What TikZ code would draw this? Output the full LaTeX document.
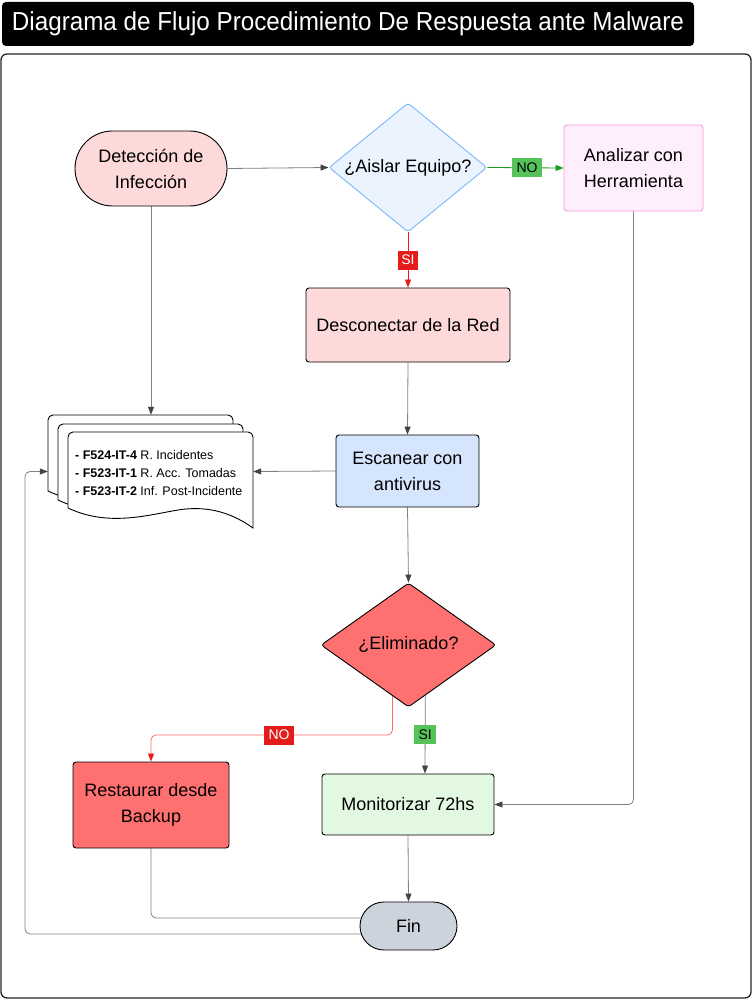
\documentclass[tikz,border=0pt]{standalone}
\usepackage{fontspec}
\setmainfont{Liberation Sans}
\usetikzlibrary{arrows.meta,shapes.geometric,shapes.misc,backgrounds,calc}

\definecolor{pinklt}{HTML}{FDD9D9}
\definecolor{bluelt}{HTML}{EAF3FE}
\definecolor{blueln}{HTML}{7DB6F7}
\definecolor{magelt}{HTML}{FFEEFB}
\definecolor{mageln}{HTML}{F59AE3}
\definecolor{scanlt}{HTML}{D5E5FD}
\definecolor{redfill}{HTML}{FF7171}
\definecolor{greenlt}{HTML}{E3F8E1}
\definecolor{finfill}{HTML}{CDD3DC}
\definecolor{lineg}{HTML}{808080}
\definecolor{arrowc}{HTML}{444444}
\definecolor{okgreen}{HTML}{1E9B1E}
\definecolor{lblgreen}{HTML}{55C35A}
\definecolor{lblred}{HTML}{E41B1B}
\definecolor{redsoft}{HTML}{FF6B6B}

\tikzset{
  base/.style={font=\fontsize{18}{26}\selectfont, align=center, inner sep=0pt, line width=0.9pt},
  proc/.style={base, rectangle, rounded corners=3pt, draw=black},
  term/.style={base, rounded rectangle, draw=black},
  decide/.style={base, diamond, rounded corners=3pt, draw=black},
  conn/.style={draw=lineg, line width=0.8pt, rounded corners=5pt,
    -{Triangle[length=8pt,width=6pt,color=arrowc]}},
  lbl/.style={font=\fontsize{14}{16}\selectfont, inner sep=0pt,
    minimum width=30pt, minimum height=19pt, rounded corners=0pt},
  sheet/.style={draw=black, fill=white, line width=0.9pt},
}

% one sheet of the document stack, given its top-left corner
\newcommand\docsheet[2]{%
  \begin{scope}[shift={(#1,#2)}]
    \path[sheet] (0,76) [rounded corners=5pt] -- (0,0) -- (185,0) [sharp corners] -- (185,96)
      .. controls (160,78) and (135,74) .. (110,78)
      .. controls (80,83) and (40,95) .. (0,76) -- cycle;
  \end{scope}}

\begin{document}
\begin{tikzpicture}[x=1pt,y=-1pt]
\useasboundingbox (0,0) rectangle (752,1000);

% title bar and frame
\node[fill=black, rounded corners=4pt, minimum width=692pt, minimum height=44pt, inner sep=0pt,
  text=white, font=\fontsize{26}{30}\selectfont] (title) at (348,24)
  {\scalebox{0.932}[1]{Diagrama de Flujo Procedimiento De Respuesta ante Malware}};
\draw[draw=black!85, line width=1.3pt, rounded corners=6pt] (1,54) rectangle (751,998);

% document stack
\docsheet{48}{415}
\docsheet{58}{424}
\docsheet{68}{432}
\node[inner sep=0pt, minimum width=205pt, minimum height=113pt] (doc) at (150.5,471.5) {};
\node[anchor=west, align=left, inner sep=0pt, font=\fontsize{12.5}{18}\selectfont] (doctext) at (75,473)
  {\textbf{- F524-IT-4} R. Incidentes\\\textbf{- F523-IT-1} R. Acc. Tomadas\\\textbf{- F523-IT-2} Inf. Post-Incidente};

% nodes
\node[term, fill=pinklt, minimum width=152pt, minimum height=75pt] (det) at (151,168.5) {Detección de\\Infección};
\node[decide, fill=bluelt, draw=blueln, aspect=1.225, minimum width=158pt, minimum height=129pt] (aislar) at (408,167.5) {¿Aislar Equipo?};
\node[proc, fill=magelt, draw=mageln, minimum width=139pt, minimum height=86pt] (ana) at (633.5,168) {Analizar con\\Herramienta};
\node[proc, fill=pinklt, minimum width=204pt, minimum height=74pt] (desc) at (408,325) {Desconectar de la Red};
\node[proc, fill=scanlt, minimum width=143pt, minimum height=72pt] (scan) at (407.5,471) {Escanear con\\antivirus};
\node[decide, fill=redfill, aspect=1.41, minimum width=175pt, minimum height=124pt] (elim) at (408.5,645) {¿Eliminado?};
\node[proc, fill=redfill, minimum width=156pt, minimum height=86pt] (rest) at (151,805) {Restaurar desde\\Backup};
\node[proc, fill=greenlt, minimum width=172pt, minimum height=61pt] (mon) at (408,804.5) {Monitorizar 72hs};
\node[term, fill=finfill, minimum width=97pt, minimum height=48pt] (fin) at (408.5,926) {Fin};

\coordinate (noturn) at (279,735);
\coordinate (loop) at (25,471.5);

% connectors
\begin{scope}[on background layer]
\draw[conn] (det.east) -- (aislar.west);
\draw[conn] (det.south) -- (det.south |- doc.north);
\draw[conn, draw=okgreen, -{Triangle[length=8pt,width=6pt,color=okgreen]}] (aislar.east) --
  node[lbl, fill=lblgreen, pos=0.52] {NO} (ana.west);
\draw[conn, draw=lblred, -{Triangle[length=8pt,width=6pt,color=lblred]}] (aislar.south) --
  node[lbl, fill=lblred, text=white, minimum width=20pt, pos=0.5] {SI} (desc.north);
\draw[conn] (desc.south) -- (scan.north);
\draw[conn] (scan.west) -- (doc.east);
\draw[conn] (scan.south) -- (elim.north);
\draw[conn, draw=redsoft, -{Triangle[length=8pt,width=6pt,color=lblred]}]
  ([xshift=-16pt]elim.center) |- (noturn) node[lbl, fill=lblred, text=white] {NO} -| (rest.north);
\draw[conn] ([xshift=17pt]elim.center) --
  node[lbl, fill=lblgreen, minimum width=22pt, pos=0.70] {SI} ([xshift=17pt]mon.north);
\draw[conn] (ana.south) |- (mon.east);
\draw[conn] (mon.south) -- (fin.north);
\draw[conn] (rest.south) |- ([yshift=8pt]fin.center);
\draw[conn] ([yshift=-8pt]fin.center) -| (loop) -- (doc.west);
\end{scope}
\end{tikzpicture}
\end{document}
